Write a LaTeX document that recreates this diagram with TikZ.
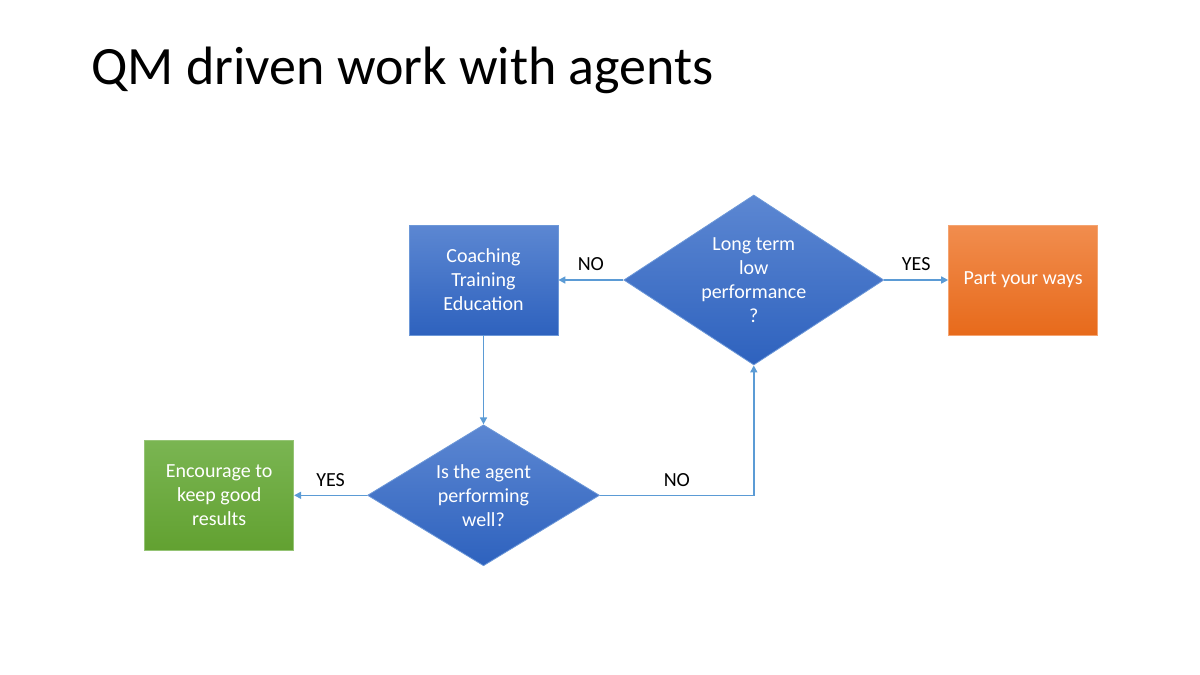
\documentclass[tikz,border=0pt]{standalone}
\usepackage{fontspec}
\setmainfont{Carlito}
\usepackage{xcolor}
\usepackage{tikz}
\usetikzlibrary{arrows.meta,positioning,shapes.geometric}
\definecolor{bluetop}{HTML}{5C87D2}
\definecolor{bluebot}{HTML}{2E62BE}
\definecolor{blueline}{HTML}{6D98D8}
\definecolor{orangetop}{HTML}{F18D4E}
\definecolor{orangebot}{HTML}{E76A1B}
\definecolor{greentop}{HTML}{7AB552}
\definecolor{greenbot}{HTML}{62A131}
\definecolor{arrowblue}{HTML}{5B9BD5}

\begin{document}
\begin{tikzpicture}[x=1pt, y=1pt, node distance=65pt and 65pt, every node/.style={font=\fontsize{20}{24}\selectfont}, box/.style={draw=blueline,line width=0.8pt,align=center,text=white,minimum width=149pt,minimum height=110pt,top color=bluetop,bottom color=bluebot}, decision/.style={diamond,draw=blueline,line width=0.8pt,align=center,text=white,inner sep=0pt,top color=bluetop,bottom color=bluebot}, arr/.style={-{Triangle[length=7pt,width=7pt]},line width=1.6pt,draw=arrowblue}, lbl/.style={above=5pt}]
\useasboundingbox (0,0) rectangle (1200,-675);
\node[anchor=west,font=\fontsize{54}{60}\selectfont] (title) at (88,-70) {QM driven work with agents};
\node[box] (coach) at (483.5,-280) {Coaching\\Training\\Education};
\node[decision,aspect=1.53,minimum width=260pt,minimum height=170pt,right=of coach] (longterm) {Long term\\low\\performance\\?};
\node[box,draw=orangetop!80,top color=orangetop,bottom color=orangebot,right=64pt of longterm] (part) {Part your ways};
\node[decision,aspect=1.645,minimum width=232pt,minimum height=141pt,below=89pt of coach] (agent) {Is the agent\\performing\\well?};
\node[box,draw=greentop!80,top color=greentop,bottom color=greenbot,left=73pt of agent] (encourage) {Encourage to\\keep good\\results};
\draw[arr] (longterm)--node[lbl]{NO} (coach);
\draw[arr] (longterm)--node[lbl]{YES} (part);
\draw[arr] (coach)--(agent);
\draw[arr] (agent)--node[lbl]{YES} (encourage);
\draw[arr] (agent.east)-|node[lbl,pos=0.25]{NO} (longterm.south);
\end{tikzpicture}
\end{document}
